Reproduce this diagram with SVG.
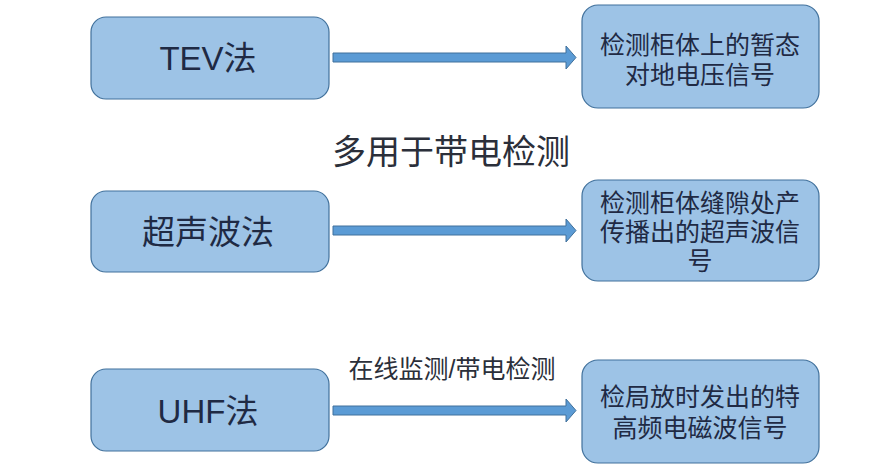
<svg xmlns="http://www.w3.org/2000/svg" width="887" height="468" viewBox="0 0 887 468">
<style>
.box{fill:#9DC3E6;stroke:#41719C;stroke-width:1.2}
.arr{fill:#5B9BD5;stroke:#41719C;stroke-width:1}
.t{font-family:"Liberation Sans","Noto Sans CJK SC",sans-serif;fill:#1F2A44;text-anchor:middle;dominant-baseline:central}
.l{font-size:33px}
.r{font-size:25px}
.m{fill:#2B2F3A}
</style>
<rect width="887" height="468" fill="#fff"/>
<g id="connectors">
<path class="arr" d="M333,53 H566 V46 L576,57.5 L566,69 V62 H333 Z"/>
<path class="arr" d="M333,226 H566 V219 L576,230.5 L566,242 V235 H333 Z"/>
<path class="arr" d="M333,406 H566 V399 L576,410.5 L566,422 V415 H333 Z"/>
<text class="t m" x="452" y="369" style="font-size:25px">在线监测/带电检测</text>
</g>
<text class="t m" x="451" y="152" style="font-size:34px">多用于带电检测</text>
<g id="tev">
<rect class="box" x="91" y="17" width="238" height="82" rx="15"/>
<text class="t l" x="208" y="58">TEV法</text>
</g>
<g id="tev-out">
<rect class="box" x="582" y="5" width="237" height="103" rx="16"/>
<text class="t r" x="700" y="45">检测柜体上的暂态</text>
<text class="t r" x="700" y="75">对地电压信号</text>
</g>
<g id="ultra">
<rect class="box" x="91" y="191" width="238" height="81" rx="15"/>
<text class="t l" x="208" y="232">超声波法</text>
</g>
<g id="ultra-out">
<rect class="box" x="582" y="180" width="237" height="101" rx="16"/>
<text class="t r" x="700" y="203">检测柜体缝隙处产</text>
<text class="t r" x="700" y="232">传播出的超声波信</text>
<text class="t r" x="700" y="261">号</text>
</g>
<g id="uhf">
<rect class="box" x="91" y="369" width="238" height="82" rx="15"/>
<text class="t l" x="208" y="411">UHF法</text>
</g>
<g id="uhf-out">
<rect class="box" x="582" y="360" width="237" height="103" rx="16"/>
<text class="t r" x="700" y="397">检局放时发出的特</text>
<text class="t r" x="700" y="428">高频电磁波信号</text>
</g>
</svg>
